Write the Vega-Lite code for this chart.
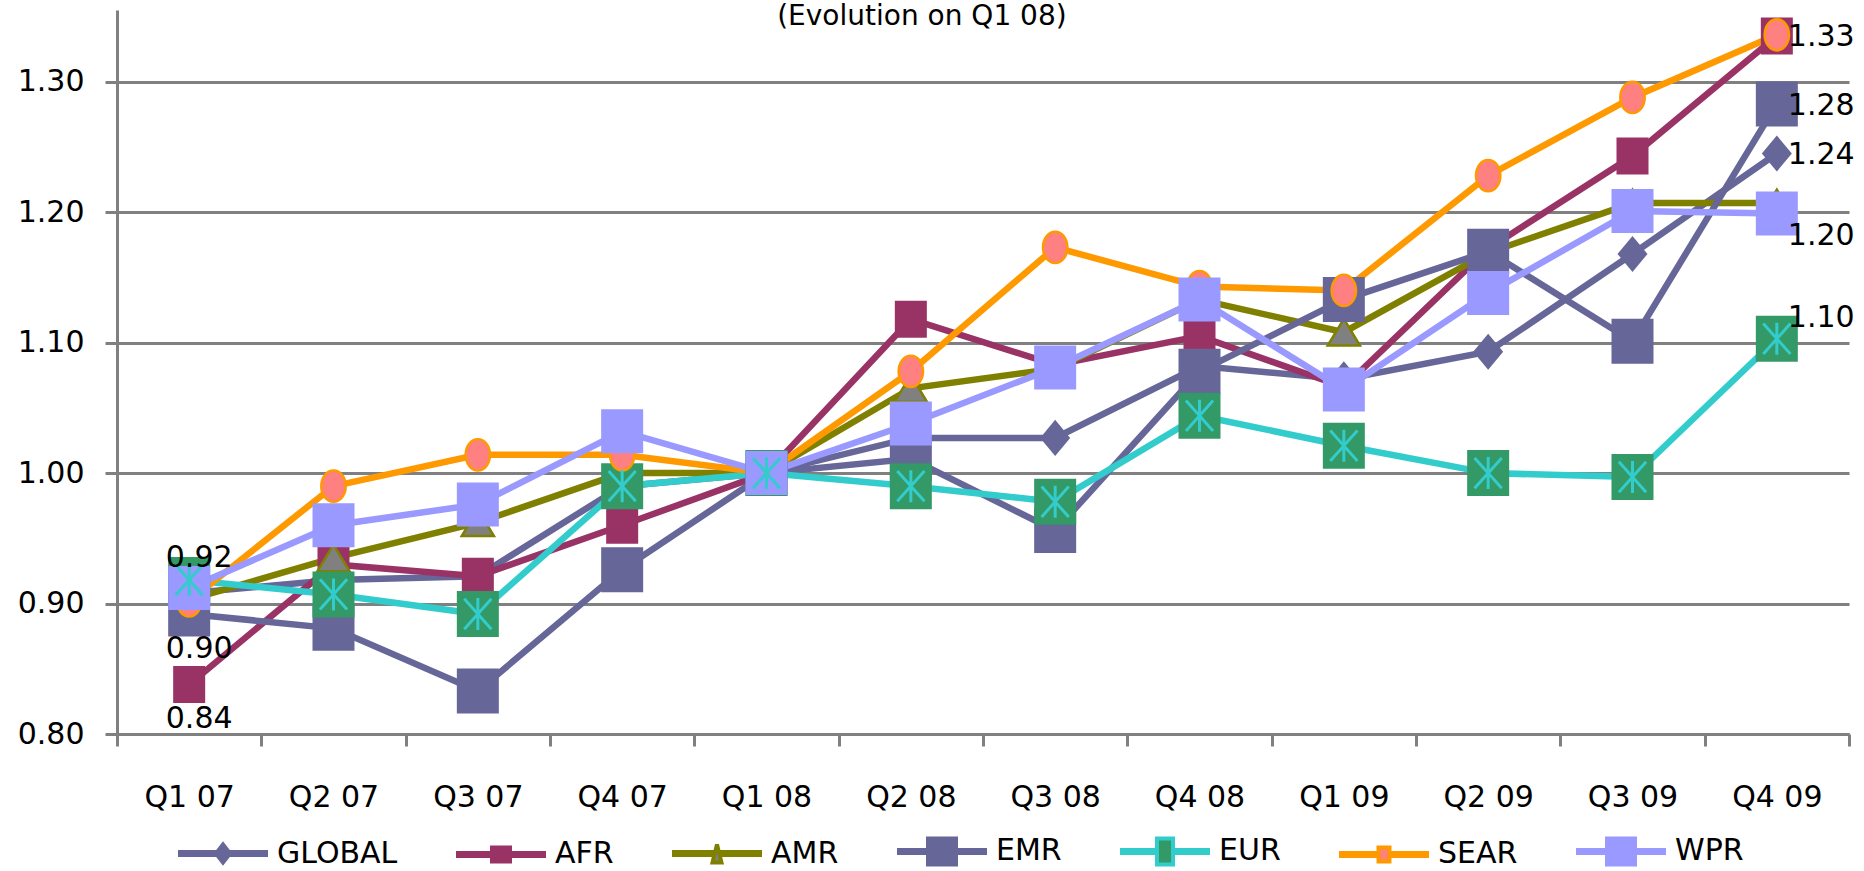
{
  "$schema": "https://vega.github.io/schema/vega-lite/v6.json",
  "width": 1732,
  "height": 724,
  "autosize": {"type": "none"},
  "padding": {"left": 117, "top": 10, "right": 15, "bottom": 137},
  "background": "white",
  "title": {
    "text": "(Evolution on Q1 08)",
    "font": "DejaVu Sans",
    "fontSize": 28,
    "fontWeight": "normal",
    "color": "black",
    "anchor": "middle",
    "frame": "bounds",
    "baseline": "alphabetic",
    "offset": -43,
    "dx": -14
  },
  "datasets": {
    "points": [
      {"quarter": "Q1 07", "series": "GLOBAL", "value": 0.908},
      {"quarter": "Q2 07", "series": "GLOBAL", "value": 0.918},
      {"quarter": "Q3 07", "series": "GLOBAL", "value": 0.921},
      {"quarter": "Q4 07", "series": "GLOBAL", "value": 0.990},
      {"quarter": "Q1 08", "series": "GLOBAL", "value": 1.000},
      {"quarter": "Q2 08", "series": "GLOBAL", "value": 1.027},
      {"quarter": "Q3 08", "series": "GLOBAL", "value": 1.027},
      {"quarter": "Q4 08", "series": "GLOBAL", "value": 1.082},
      {"quarter": "Q1 09", "series": "GLOBAL", "value": 1.072},
      {"quarter": "Q2 09", "series": "GLOBAL", "value": 1.093},
      {"quarter": "Q3 09", "series": "GLOBAL", "value": 1.168},
      {"quarter": "Q4 09", "series": "GLOBAL", "value": 1.245},
      {"quarter": "Q1 07", "series": "AFR", "value": 0.838},
      {"quarter": "Q2 07", "series": "AFR", "value": 0.930},
      {"quarter": "Q3 07", "series": "AFR", "value": 0.921},
      {"quarter": "Q4 07", "series": "AFR", "value": 0.960},
      {"quarter": "Q1 08", "series": "AFR", "value": 1.000},
      {"quarter": "Q2 08", "series": "AFR", "value": 1.118},
      {"quarter": "Q3 08", "series": "AFR", "value": 1.083},
      {"quarter": "Q4 08", "series": "AFR", "value": 1.105},
      {"quarter": "Q1 09", "series": "AFR", "value": 1.066},
      {"quarter": "Q2 09", "series": "AFR", "value": 1.172},
      {"quarter": "Q3 09", "series": "AFR", "value": 1.243},
      {"quarter": "Q4 09", "series": "AFR", "value": 1.335},
      {"quarter": "Q1 07", "series": "AMR", "value": 0.903},
      {"quarter": "Q2 07", "series": "AMR", "value": 0.935},
      {"quarter": "Q3 07", "series": "AMR", "value": 0.962},
      {"quarter": "Q4 07", "series": "AMR", "value": 1.000},
      {"quarter": "Q1 08", "series": "AMR", "value": 1.000},
      {"quarter": "Q2 08", "series": "AMR", "value": 1.065},
      {"quarter": "Q3 08", "series": "AMR", "value": 1.080},
      {"quarter": "Q4 08", "series": "AMR", "value": 1.133},
      {"quarter": "Q1 09", "series": "AMR", "value": 1.108},
      {"quarter": "Q2 09", "series": "AMR", "value": 1.169},
      {"quarter": "Q3 09", "series": "AMR", "value": 1.207},
      {"quarter": "Q4 09", "series": "AMR", "value": 1.207},
      {"quarter": "Q1 07", "series": "EMR", "value": 0.892},
      {"quarter": "Q2 07", "series": "EMR", "value": 0.881},
      {"quarter": "Q3 07", "series": "EMR", "value": 0.833},
      {"quarter": "Q4 07", "series": "EMR", "value": 0.926},
      {"quarter": "Q1 08", "series": "EMR", "value": 1.000},
      {"quarter": "Q2 08", "series": "EMR", "value": 1.011},
      {"quarter": "Q3 08", "series": "EMR", "value": 0.956},
      {"quarter": "Q4 08", "series": "EMR", "value": 1.078},
      {"quarter": "Q1 09", "series": "EMR", "value": 1.133},
      {"quarter": "Q2 09", "series": "EMR", "value": 1.170},
      {"quarter": "Q3 09", "series": "EMR", "value": 1.101},
      {"quarter": "Q4 09", "series": "EMR", "value": 1.283},
      {"quarter": "Q1 07", "series": "EUR", "value": 0.918},
      {"quarter": "Q2 07", "series": "EUR", "value": 0.907},
      {"quarter": "Q3 07", "series": "EUR", "value": 0.892},
      {"quarter": "Q4 07", "series": "EUR", "value": 0.990},
      {"quarter": "Q1 08", "series": "EUR", "value": 1.000},
      {"quarter": "Q2 08", "series": "EUR", "value": 0.990},
      {"quarter": "Q3 08", "series": "EUR", "value": 0.978},
      {"quarter": "Q4 08", "series": "EUR", "value": 1.044},
      {"quarter": "Q1 09", "series": "EUR", "value": 1.021},
      {"quarter": "Q2 09", "series": "EUR", "value": 1.000},
      {"quarter": "Q3 09", "series": "EUR", "value": 0.997},
      {"quarter": "Q4 09", "series": "EUR", "value": 1.103},
      {"quarter": "Q1 07", "series": "SEAR", "value": 0.902},
      {"quarter": "Q2 07", "series": "SEAR", "value": 0.990},
      {"quarter": "Q3 07", "series": "SEAR", "value": 1.014},
      {"quarter": "Q4 07", "series": "SEAR", "value": 1.014},
      {"quarter": "Q1 08", "series": "SEAR", "value": 1.000},
      {"quarter": "Q2 08", "series": "SEAR", "value": 1.078},
      {"quarter": "Q3 08", "series": "SEAR", "value": 1.173},
      {"quarter": "Q4 08", "series": "SEAR", "value": 1.143},
      {"quarter": "Q1 09", "series": "SEAR", "value": 1.140},
      {"quarter": "Q2 09", "series": "SEAR", "value": 1.228},
      {"quarter": "Q3 09", "series": "SEAR", "value": 1.288},
      {"quarter": "Q4 09", "series": "SEAR", "value": 1.336},
      {"quarter": "Q1 07", "series": "WPR", "value": 0.912},
      {"quarter": "Q2 07", "series": "WPR", "value": 0.960},
      {"quarter": "Q3 07", "series": "WPR", "value": 0.976},
      {"quarter": "Q4 07", "series": "WPR", "value": 1.032},
      {"quarter": "Q1 08", "series": "WPR", "value": 1.000},
      {"quarter": "Q2 08", "series": "WPR", "value": 1.038},
      {"quarter": "Q3 08", "series": "WPR", "value": 1.081},
      {"quarter": "Q4 08", "series": "WPR", "value": 1.133},
      {"quarter": "Q1 09", "series": "WPR", "value": 1.064},
      {"quarter": "Q2 09", "series": "WPR", "value": 1.138},
      {"quarter": "Q3 09", "series": "WPR", "value": 1.201},
      {"quarter": "Q4 09", "series": "WPR", "value": 1.199}
    ],
    "labels": [
      {"quarter": "Q1 07", "series": "EUR", "value": 0.918, "label": "0.92", "pos": "above"},
      {"quarter": "Q1 07", "series": "EMR", "value": 0.892, "label": "0.90", "pos": "below"},
      {"quarter": "Q1 07", "series": "AFR", "value": 0.838, "label": "0.84", "pos": "below"},
      {"quarter": "Q4 09", "series": "SEAR", "value": 1.336, "label": "1.33", "pos": "right"},
      {"quarter": "Q4 09", "series": "EMR", "value": 1.283, "label": "1.28", "pos": "right"},
      {"quarter": "Q4 09", "series": "GLOBAL", "value": 1.245, "label": "1.24", "pos": "right"},
      {"quarter": "Q4 09", "series": "WPR", "value": 1.199, "label": "1.20", "pos": "rightBelow"},
      {"quarter": "Q4 09", "series": "EUR", "value": 1.103, "label": "1.10", "pos": "rightAbove"}
    ]
  },
  "data": {"name": "points"},
  "encoding": {
    "x": {
      "field": "quarter",
      "type": "ordinal",
      "sort": ["Q1 07", "Q2 07", "Q3 07", "Q4 07", "Q1 08", "Q2 08", "Q3 08", "Q4 08", "Q1 09", "Q2 09", "Q3 09", "Q4 09"],
      "scale": {"type": "band", "paddingInner": 0, "paddingOuter": 0},
      "axis": {
        "title": null,
        "grid": false,
        "domainColor": "#808080",
        "domainWidth": 3,
        "tickColor": "#808080",
        "tickWidth": 3,
        "tickSize": 12,
        "tickBand": "extent",
        "labelAngle": 0,
        "labelFont": "DejaVu Sans",
        "labelFontSize": 30,
        "labelColor": "black",
        "labelBaseline": "alphabetic",
        "labelPadding": 60
      }
    },
    "y": {
      "field": "value",
      "type": "quantitative",
      "scale": {"domain": [0.8, 1.355], "nice": false, "zero": false},
      "axis": {
        "title": null,
        "values": [0.8, 0.9, 1.0, 1.1, 1.2, 1.3],
        "format": ".2f",
        "grid": true,
        "gridColor": "#808080",
        "gridWidth": 3,
        "domainColor": "#808080",
        "domainWidth": 3,
        "tickColor": "#808080",
        "tickWidth": 3,
        "tickSize": 12,
        "labelFont": "DejaVu Sans",
        "labelFontSize": 30,
        "labelColor": "black",
        "labelPadding": 21
      }
    }
  },
  "layer": [
    {
      "mark": {"type": "line", "strokeWidth": 6.5},
      "encoding": {
        "color": {
          "field": "series",
          "type": "nominal",
          "scale": {
            "domain": ["GLOBAL", "AFR", "AMR", "EMR", "EUR", "SEAR", "WPR"],
            "range": ["#666699", "#993366", "#808000", "#666699", "#33CCCC", "#FF9900", "#9999FF"]
          },
          "legend": null
        }
      }
    },
    {
      "mark": {"type": "point", "filled": true, "opacity": 1, "size": 2116, "strokeWidth": 2.5},
      "encoding": {
        "shape": {
          "field": "series",
          "type": "nominal",
          "scale": {
            "domain": ["GLOBAL", "AFR", "AMR", "EMR", "EUR", "SEAR", "WPR"],
            "range": [
              "M0,-0.783L0.652,0L0,0.783L-0.652,0Z",
              "M-0.696,-0.804H0.696V0.804H-0.696Z",
              "M0,-0.58L0.7,0.58H-0.7Z",
              "M-0.913,-0.978H0.913V0.978H-0.913Z",
              "M-0.913,-1H0.913V1H-0.913Z",
              "M0,-0.68A0.53,0.68 0 1,1 0,0.68A0.53,0.68 0 1,1 0,-0.68Z",
              "M-0.913,-0.957H0.913V0.957H-0.913Z"
            ]
          },
          "legend": null
        },
        "fill": {
          "field": "series",
          "type": "nominal",
          "scale": {
            "domain": ["GLOBAL", "AFR", "AMR", "EMR", "EUR", "SEAR", "WPR"],
            "range": ["#666699", "#993366", "#808080", "#666699", "#339966", "#FF8080", "#9999FF"]
          },
          "legend": null
        },
        "stroke": {
          "field": "series",
          "type": "nominal",
          "scale": {
            "domain": ["GLOBAL", "AFR", "AMR", "EMR", "EUR", "SEAR", "WPR"],
            "range": ["transparent", "transparent", "#808000", "transparent", "transparent", "#FF9900", "transparent"]
          },
          "legend": null
        }
      }
    },
    {
      "transform": [{"filter": "datum.series === 'EUR'"}],
      "mark": {
        "type": "point",
        "shape": "M0,-1V1M-0.85,-0.95L0.85,0.95M0.85,-0.95L-0.85,0.95",
        "filled": false,
        "stroke": "#33CCCC",
        "strokeWidth": 3,
        "size": 1024,
        "opacity": 1
      }
    },
    {
      "transform": [{"filter": "datum.series === 'none'"}],
      "mark": {"type": "point", "filled": true, "opacity": 1},
      "encoding": {
        "shape": {
          "field": "series",
          "type": "nominal",
          "scale": {
            "domain": ["GLOBAL", "AFR", "AMR", "EMR", "EUR", "SEAR", "WPR"],
            "range": [
              "M-1,-0.033H-0.1M-1,0.033H-0.1M0.1,-0.033H1M0.1,0.033H1M0,-0.2L0.156,0L0,0.2L-0.156,0Z",
              "M-1,-0.033H-0.2M-1,0.033H-0.2M0.2,-0.033H1M0.2,0.033H1M-0.2,-0.156H0.2V0.156H-0.2Z",
              "M-1,-0.033H-0.05M-1,0.033H-0.05M0.05,-0.033H1M0.05,0.033H1M0,-0.2L0.1,0.2H-0.1Z",
              "M-1,-0.033H-0.311M-1,0.033H-0.311M0.311,-0.033H1M0.311,0.033H1M-0.311,-0.289H0.311V0.289H-0.311Z",
              "M-1,-0.033H-0.178M-1,0.033H-0.178M0.178,-0.033H1M0.178,0.033H1M-0.178,-0.289H0.178V0.289H-0.178Z",
              "M-1,-0.033H-0.122M-1,0.033H-0.122M0.122,-0.033H1M0.122,0.033H1M-0.122,-0.156H0.122V0.156H-0.122Z",
              "M-1,-0.033H-0.311M-1,0.033H-0.311M0.311,-0.033H1M0.311,0.033H1M-0.311,-0.289H0.311V0.289H-0.311Z"
            ]
          },
          "legend": {
            "title": null,
            "orient": "none",
            "legendX": 59,
            "legendY": 794,
            "direction": "horizontal",
            "columns": 7,
            "symbolSize": 8100,
            "symbolStrokeWidth": 4,
            "symbolOpacity": 1,
            "labelFont": "DejaVu Sans",
            "labelFontSize": 30,
            "labelColor": "black",
            "labelOffset": 7,
            "labelLimit": 400,
            "columnPadding": 50,
            "padding": 0
          }
        },
        "fill": {
          "field": "series",
          "type": "nominal",
          "scale": {
            "domain": ["GLOBAL", "AFR", "AMR", "EMR", "EUR", "SEAR", "WPR"],
            "range": ["#666699", "#993366", "#808080", "#666699", "#339966", "#FF8080", "#9999FF"]
          }
        },
        "stroke": {
          "field": "series",
          "type": "nominal",
          "scale": {
            "domain": ["GLOBAL", "AFR", "AMR", "EMR", "EUR", "SEAR", "WPR"],
            "range": ["#666699", "#993366", "#808000", "#666699", "#33CCCC", "#FF9900", "#9999FF"]
          }
        }
      }
    },
    {
      "data": {"name": "labels"},
      "transform": [{"filter": "datum.pos === 'above'"}],
      "mark": {"type": "text", "align": "center", "baseline": "middle", "dx": 10, "dy": -22, "font": "DejaVu Sans", "fontSize": 30, "color": "black"},
      "encoding": {"text": {"field": "label"}}
    },
    {
      "data": {"name": "labels"},
      "transform": [{"filter": "datum.pos === 'below'"}],
      "mark": {"type": "text", "align": "center", "baseline": "middle", "dx": 10, "dy": 35, "font": "DejaVu Sans", "fontSize": 30, "color": "black"},
      "encoding": {"text": {"field": "label"}}
    },
    {
      "data": {"name": "labels"},
      "transform": [{"filter": "datum.pos === 'right'"}],
      "mark": {"type": "text", "align": "left", "baseline": "middle", "dx": 11, "dy": 2, "font": "DejaVu Sans", "fontSize": 30, "color": "black"},
      "encoding": {"text": {"field": "label"}}
    },
    {
      "data": {"name": "labels"},
      "transform": [{"filter": "datum.pos === 'rightBelow'"}],
      "mark": {"type": "text", "align": "left", "baseline": "middle", "dx": 11, "dy": 22, "font": "DejaVu Sans", "fontSize": 30, "color": "black"},
      "encoding": {"text": {"field": "label"}}
    },
    {
      "data": {"name": "labels"},
      "transform": [{"filter": "datum.pos === 'rightAbove'"}],
      "mark": {"type": "text", "align": "left", "baseline": "middle", "dx": 11, "dy": -21, "font": "DejaVu Sans", "fontSize": 30, "color": "black"},
      "encoding": {"text": {"field": "label"}}
    }
  ],
  "resolve": {"scale": {"shape": "independent", "fill": "independent", "stroke": "independent"}},
  "config": {
    "view": {"stroke": null},
    "font": "DejaVu Sans"
  }
}
